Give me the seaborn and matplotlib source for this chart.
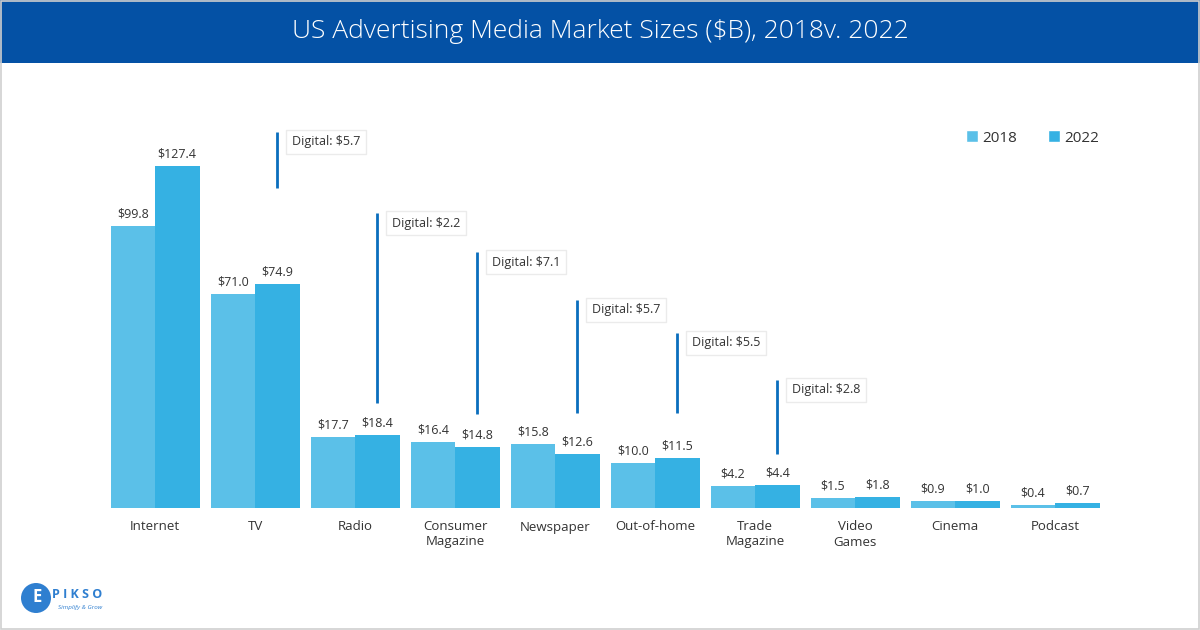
import numpy as np
import pandas as pd
import matplotlib
matplotlib.use("Agg")
import matplotlib.pyplot as plt
import matplotlib.transforms as mtransforms
from matplotlib.patches import Rectangle, Ellipse
import seaborn as sns

# ---------------- data ----------------
categories = ["Internet", "TV", "Radio", "Consumer\nMagazine", "Newspaper",
              "Out-of-home", "Trade\nMagazine", "Video\nGames", "Cinema", "Podcast"]
values_2018 = [99.8, 71.0, 17.7, 16.4, 15.8, 10.0, 4.2, 1.5, 0.9, 0.4]
values_2022 = [127.4, 74.9, 18.4, 14.8, 12.6, 11.5, 4.4, 1.8, 1.0, 0.7]
years = ["2018", "2022"]
digital_cats = ["TV", "Radio", "Consumer\nMagazine", "Newspaper", "Out-of-home", "Trade\nMagazine"]
digital_vals = [5.7, 2.2, 7.1, 5.7, 5.5, 2.8]

# ---------------- layout / style ----------------
W, H = 1200, 630
c2018 = "#5BC0E8"
c2022 = "#35B1E3"
title_blue = "#0451A5"
line_blue = "#0A6EBD"
text_col = "#333333"
# digital callout line top / bottom in figure pixels (from top)
callout_top_px = [132, 213, 252, 300, 333, 380]
callout_bot_px = [188, 403, 414, 413, 413, 454]

sns.set_theme(style="white")
plt.rcParams["font.family"] = ["Open Sans", "DejaVu Sans"]

df = pd.DataFrame({
    "media": categories * 2,
    "value": values_2018 + values_2022,
    "year": [years[0]] * len(categories) + [years[1]] * len(categories),
})

fig = plt.figure(figsize=(W / 100, H / 100), dpi=100)
fig.patch.set_facecolor("white")

# title band
fig.patches.append(Rectangle((0, 1 - 63 / H), 1, 63 / H, transform=fig.transFigure,
                             facecolor=title_blue, edgecolor="none", zorder=0))
fig.text(0.5, 1 - 32 / H, "US Advertising Media Market Sizes ($B), 2018v. 2022",
         ha="center", va="center", color="white", fontsize=19, fontweight="light")
# thin border
fig.patches.append(Rectangle((0.0008, 0.0015), 0.9984, 0.997, transform=fig.transFigure,
                             facecolor="none", edgecolor="#cfcfcf", linewidth=1.2, zorder=0))

ax = fig.add_axes([105 / W, 1 - 508 / H, 1000 / W, 408 / H])
sns.barplot(data=df, x="media", y="value", hue="year", palette=[c2018, c2022],
            width=0.89, saturation=1, gap=0, ax=ax, legend=False, errorbar=None,
            linewidth=0, edgecolor="none")

p = 0.8
ax.set_yscale("function", functions=(lambda v: np.power(np.clip(v, 0, None), p),
                                     lambda v: np.power(np.clip(v, 0, None), 1 / p)))
ax.set_ylim(0, 158.7)
ax.set_xlim(-0.5, len(categories) - 0.5)

for cont in ax.containers:
    vals = [b.get_height() for b in cont]
    ax.bar_label(cont, labels=[f"${v:.1f}" for v in vals], padding=4,
                 fontsize=9, color=text_col)

for s in ax.spines.values():
    s.set_visible(False)
ax.set_yticks([])
ax.set_xlabel("")
ax.set_ylabel("")
ax.tick_params(axis="x", length=0, pad=9, labelsize=9.5, labelcolor=text_col)

# digital callouts
trans = mtransforms.blended_transform_factory(ax.transData, fig.transFigure)
for cat, val, top, bot in zip(digital_cats, digital_vals, callout_top_px, callout_bot_px):
    i = categories.index(cat)
    x = i + 0.89 / 4
    ax.plot([x, x], [1 - top / H, 1 - bot / H], transform=trans, color=line_blue,
            linewidth=2, clip_on=False, solid_capstyle="butt")
    ax.text(x + 0.145, 1 - (top + 10) / H, f"Digital: ${val:.1f}", transform=trans,
            ha="left", va="center", fontsize=9, color=text_col, clip_on=False,
            bbox=dict(boxstyle="square,pad=0.45", facecolor="white", edgecolor="#ebebeb",
                      linewidth=1.0))

# legend
handles = [Rectangle((0, 0), 1, 1, facecolor=c) for c in (c2018, c2022)]
fig.legend(handles, years, loc="center left", bbox_to_anchor=(952 / W, 1 - 138 / H),
           ncol=2, frameon=False, fontsize=11, handlelength=0.8, handleheight=0.8,
           handletextpad=0.3, columnspacing=2.0, labelcolor=text_col)

# logo
fig.patches.append(Ellipse((36 / W, 1 - 598 / H), 30 / W, 30 / H, transform=fig.transFigure,
                           facecolor="#2F7FD0", edgecolor="none"))
fig.text(37 / W, 1 - 597 / H, "E", color="white", fontsize=12, fontweight="bold",
         ha="center", va="center")
fig.text(52 / W, 1 - 595 / H, "P I K S O", color="#2F7FD0", fontsize=9, fontweight="bold",
         ha="left", va="center")
fig.text(58 / W, 1 - 608 / H, "Simplify & Grow", color="#2F7FD0", fontsize=4.5,
         style="italic", ha="left", va="center")

fig.savefig("out.png", dpi=100, facecolor="white")
